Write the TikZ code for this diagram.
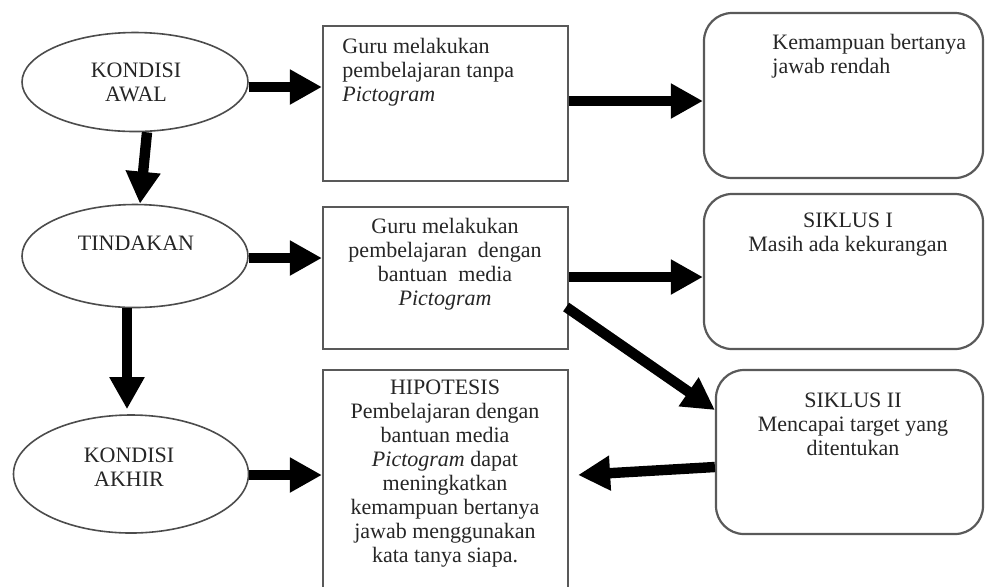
\documentclass[tikz,border=0pt]{standalone}
\usepackage{fontspec}
\setmainfont{Liberation Serif}
\usetikzlibrary{shapes.geometric,arrows.meta,calc}
\begin{document}
\begin{tikzpicture}[x=0.5pt,y=-0.5pt,
  oval/.style={ellipse,draw=black!70,line width=0.8pt,inner sep=0pt},
  sqbox/.style={rectangle,draw=black!65,line width=1.1pt,inner sep=0pt},
  rbox/.style={rectangle,rounded corners=14pt,draw=black!65,line width=1.1pt,inner sep=0pt},
  txt/.style={font=\fontsize{11}{12}\selectfont,text=black!85,inner sep=0pt},
  bigarrow/.style={line width=5.2pt,-{Triangle[length=16pt,width=16.5pt]}}]
\useasboundingbox (0,0) rectangle (985,586);
\clip (0,0) rectangle (985,586);
\fill[white] (0,0) rectangle (985,586);
% ellipses
\node[oval,minimum width=113pt,minimum height=49.5pt] (e1) at (135,82) {};
\node[oval,minimum width=113pt,minimum height=51.5pt] (e2) at (135,256) {};
\node[oval,minimum width=117.5pt,minimum height=59pt] (e3) at (131,474) {};
% boxes
\node[sqbox,minimum width=122.5pt,minimum height=77.5pt] (b1) at (445.5,103.5) {};
\node[sqbox,minimum width=122.5pt,minimum height=71pt] (b2) at (445.5,278) {};
\node[sqbox,minimum width=122.5pt,minimum height=115pt] (b3) at (445.5,485) {};
\node[rbox,minimum width=139.5pt,minimum height=82.5pt] (r1) at (843.5,95.5) {};
\node[rbox,minimum width=139.5pt,minimum height=77.5pt] (r2) at (843.5,271.5) {};
\node[rbox,minimum width=133.5pt,minimum height=82pt] (r3) at (849.5,452) {};
% texts
\node[txt,align=center] (te1) at (136,82) {KONDISI\\AWAL};
\node[txt,align=center] (te2) at (136,243) {TINDAKAN};
\node[txt,align=center] (te3) at (129,467) {KONDISI\\AKHIR};
\node[txt,align=left,anchor=west] (tb1) at (342,72) {Guru melakukan\\pembelajaran tanpa\\\textit{Pictogram}};
\node[txt,align=center] (tb2) at (445,264) {Guru melakukan\\pembelajaran~ dengan\\bantuan~ media\\\textit{Pictogram}};
\node[txt,align=center] (tb3) at (445,474) {HIPOTESIS\\Pembelajaran dengan\\bantuan media\\\textit{Pictogram} dapat\\meningkatkan\\kemampuan bertanya\\jawab menggunakan\\kata tanya siapa.};
\node[txt,align=left,anchor=west] (tr1) at (772,56) {Kemampuan bertanya\\jawab rendah};
\node[txt,align=center] (tr2) at (848,235) {SIKLUS I\\Masih ada kekurangan};
\node[txt,align=center] (tr3) at (853,424) {SIKLUS II\\Mencapai target yang\\ditentukan};
% arrows
\draw[bigarrow] ($(e1.east)+(0,5)$) coordinate (a1s) -- (a1s -| b1.west);
\draw[bigarrow] ($(e1.south)+(12,0)$) -- ($(e2.north)+(5,0)$);
\draw[bigarrow] ($(e2.east)+(0,2)$) coordinate (a3s) -- (a3s -| b2.west);
\draw[bigarrow] ($(e2.south)+(-8,0)$) -- ($(e3.north)+(-4,-5)$);
\draw[bigarrow] ($(e3.east)+(0,1)$) coordinate (a5s) -- (a5s -| b3.west);
\draw[bigarrow] ($(b1.east)+(0,-2.5)$) coordinate (a6s) -- (a6s -| r1.west);
\draw[bigarrow] ($(b2.east)+(0,-1)$) coordinate (a7s) -- (a7s -| r2.west);
\draw[bigarrow] ($(b2.east)+(-3,29)$) -- ($(r3.west)+(0,-42)$);
\draw[bigarrow] ($(r3.west)+(0,15)$) -- ($(b3.east)+(9,-10)$);
\end{tikzpicture}
\end{document}
